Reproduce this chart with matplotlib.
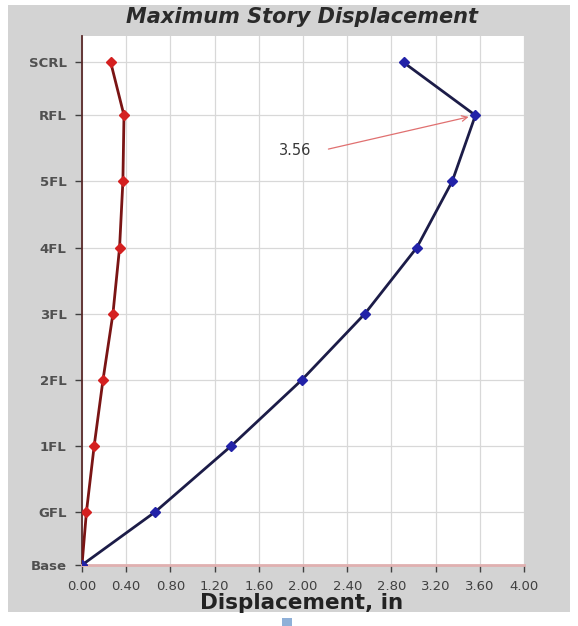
import numpy as np
import matplotlib.pyplot as plt
from matplotlib.patches import Rectangle

stories = ['Base', 'GFL', '1FL', '2FL', '3FL', '4FL', '5FL', 'RFL', 'SCRL']
levels = [0, 8, 18, 28, 38, 48, 58, 68, 76]

# displacement, in
disp_blue = [0.00, 0.66, 1.35, 1.99, 2.56, 3.03, 3.35, 3.56, 2.91]
disp_red = [0.00, 0.04, 0.11, 0.19, 0.28, 0.34, 0.37, 0.38, 0.26]

xticks = np.arange(0, 4.01, 0.4)
peak_label = '3.56'

W, H = 578, 626
fig = plt.figure(figsize=(W/100, H/100), dpi=100)
fig.patch.set_facecolor('white')
fig.patches.append(Rectangle((8/W, 14/H), 562/W, 607/H, transform=fig.transFigure,
                             facecolor='#d3d3d3', edgecolor='none', zorder=-5))
fig.patches.append(Rectangle((282/W, 0), 10/W, 8/H, transform=fig.transFigure,
                             facecolor='#8fb0d8', edgecolor='none', zorder=-4))

ax = fig.add_axes([82/W, 1-565/H, 442/W, 529/H])
ax.set_facecolor('white')

ax.plot(disp_red, levels, color='#7a1414', lw=2, marker='D', ms=5.5,
        mfc='#d42020', mec='#d42020', zorder=3)
ax.plot(disp_blue, levels, color='#1c1c48', lw=2, marker='D', ms=5.5,
        mfc='#2222a8', mec='#2222a8', zorder=3)

# peak label with a thin arrow to the RFL point
ax.text(1.93, 62.7, peak_label, fontsize=10.5, color='#383838',
        va='center', ha='center')
ax.annotate('', xy=(disp_blue[7], levels[7]), xytext=(2.23, 62.9),
            arrowprops=dict(arrowstyle='->', color='#e07070', lw=0.9,
                            shrinkA=0, shrinkB=5))

ax.set_xlim(0, 4)
ax.set_ylim(0, 80)
ax.set_xticks(xticks)
ax.set_xticklabels([f'{v:.2f}' for v in xticks], fontsize=9.5, color='#404040')
ax.set_yticks(levels)
ax.set_yticklabels(stories, fontsize=9.5, fontweight='bold', color='#505050')
ax.tick_params(axis='both', length=5, width=1, color='#404040')
ax.tick_params(axis='x', pad=6)
ax.tick_params(axis='y', pad=6)
ax.grid(True, color='#d8d8d8', lw=0.9)
ax.set_axisbelow(True)

for s in ['top', 'right']:
    ax.spines[s].set_visible(False)
ax.spines['left'].set_color('#5a2a2a')
ax.spines['left'].set_linewidth(1.3)
ax.spines['bottom'].set_color('#e0b0b0')
ax.spines['bottom'].set_linewidth(2)

fig.text(302/W, 1-603/H, 'Displacement, in', fontsize=15.5, fontweight='bold',
         color='#222222', ha='center', va='center')
fig.text(302/W, 1-17/H, 'Maximum Story Displacement', fontsize=15,
         fontweight='bold', fontstyle='italic', color='#2a2a2a',
         ha='center', va='center')

fig.savefig('out.png', dpi=100)
